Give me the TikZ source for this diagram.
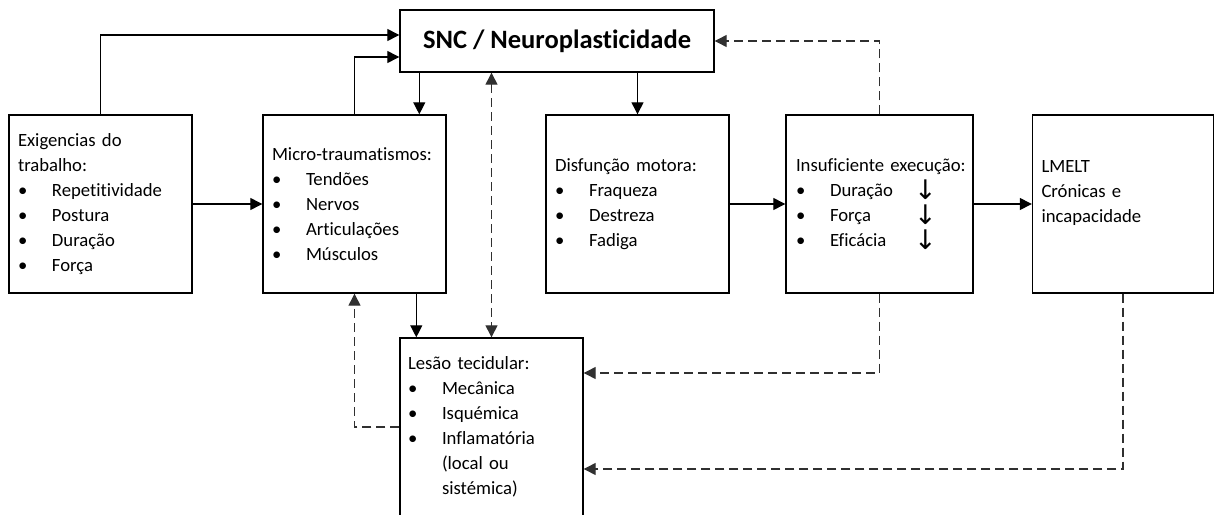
\documentclass[tikz,border=0pt]{standalone}
\usepackage{fontspec}
\setmainfont{Carlito}[Ligatures=NoCommon]
\newfontfamily\arwfont{DejaVu Sans}
\usetikzlibrary{calc,arrows.meta}
\definecolor{ink}{HTML}{000000}
\definecolor{dashink}{HTML}{303030}
\newcommand{\bul}[1]{\makebox[34pt][l]{\textbullet}#1}
\newcommand{\ind}[1]{\hspace*{34pt}#1}
\newcommand{\dn}{\raisebox{-3pt}{\arwfont\fontsize{27}{27}\selectfont ↓}}
\tikzset{
  box/.style={draw=ink, line width=1.4pt, rectangle, minimum width=183pt, minimum height=178pt,
    inner xsep=9pt, inner ysep=0pt, text width=165pt, align=left, font=\fontsize{18.7}{25}\selectfont},
  title/.style={draw=ink, line width=1.4pt, rectangle, minimum width=314pt, minimum height=62pt,
    font=\bfseries\fontsize{26.5}{30}\selectfont},
  arr/.style={draw=ink, line width=1.3pt, -{Triangle[length=12pt,width=12pt]}},
  darr/.style={arr, draw=dashink, dash pattern=on 9pt off 5pt},
  ddarr/.style={darr, {Triangle[length=12pt,width=12pt]}-{Triangle[length=12pt,width=12pt]}},
}
\begin{document}
\begin{tikzpicture}[x=1pt,y=1pt]
  \useasboundingbox (0,0) rectangle (1214,-514);

  \node[title] (snc) at (557,-41) {SNC / Neuroplasticidade};

  \node[box] (exig) at (100.5,-204) {Exigencias do\\trabalho:\\\bul{Repetitividade}\\\bul{Postura}\\\bul{Duração}\\\bul{Força}};
  \node[box] (micro) at (354.5,-204) {Micro-traumatismos:\\\bul{Tendões}\\\bul{Nervos}\\\bul{Articulações}\\\bul{Músculos}};
  \node[box] (disf) at (637.5,-204) {Disfunção motora:\\\bul{Fraqueza}\\\bul{Destreza}\\\bul{Fadiga}};
  \node[box,minimum width=187pt,inner xsep=10pt,text width=167pt] (insuf) at (879.5,-204)
    {\mbox{Insuficiente execução:}\\\bul{\makebox[84pt][l]{Duração}\dn}\\\bul{\makebox[84pt][l]{Força}\dn}\\\bul{\makebox[84pt][l]{Eficácia}\dn}};
  \node[box,minimum width=181pt,text width=163pt] (lmelt) at (1123,-204) {LMELT\\Crónicas e\\incapacidade\\\mbox{}};
  \node[box,inner xsep=8pt,text width=167pt] (lesao) at (491.5,-427)
    {Lesão tecidular:\\\bul{Mecânica}\\\bul{Isquémica}\\\bul{Inflamatória}\\\ind{(local ou}\\\ind{sistémica)}};

  % into the SNC
  \draw[arr] (exig.north) |- ($(snc.west)+(0,6)$);
  \draw[arr] (micro.north) |- ($(snc.west)+(0,-16)$);
  \draw[darr] (insuf.north) |- (snc.east);

  % out of the SNC
  \coordinate (sncA) at ($(snc.south west)+(20,0)$);
  \draw[arr] (sncA) -- (sncA |- micro.north);
  \draw[arr] (snc.south -| disf.north) -- (disf.north);
  \draw[ddarr] (snc.south -| lesao.north) -- (lesao.north);

  % main chain
  \draw[arr] (exig) -- (micro);
  \draw[arr] (disf) -- (insuf);
  \draw[arr] (insuf) -- (lmelt);

  % tissue lesion loops
  \coordinate (lesA) at ($(lesao.north west)+(17,0)$);
  \draw[arr] (micro.south -| lesA) -- (lesA);
  \draw[darr] (lesao.west) -| (micro.south);
  \draw[darr] (insuf.south) |- ($(lesao.east)+(0,54)$);
  \draw[darr] (lmelt.south) |- ($(lesao.east)+(0,-42)$);
\end{tikzpicture}
\end{document}
